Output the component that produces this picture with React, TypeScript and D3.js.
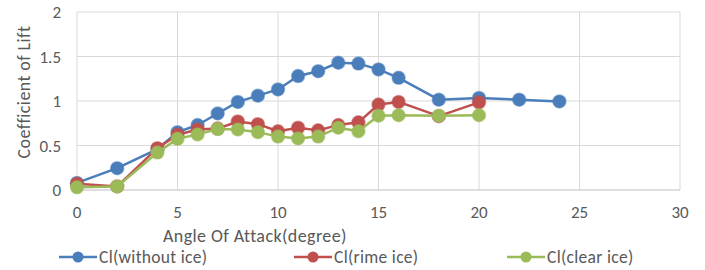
import React, { useEffect, useRef } from 'react';
import * as d3 from 'd3';

const angles = [0, 2, 4, 5, 6, 7, 8, 9, 10, 11, 12, 13, 14, 15, 16, 18, 20, 22, 24];
const clWithoutIce = [0.08, 0.245, 0.46, 0.65, 0.73, 0.86, 0.99, 1.06, 1.13, 1.28, 1.335, 1.43, 1.42, 1.355, 1.26, 1.015, 1.035, 1.015, 0.995];
const rimeAngles = [0, 2, 4, 5, 6, 7, 8, 9, 10, 11, 12, 13, 14, 15, 16, 18, 20];
const clRimeIce = [0.07, 0.04, 0.47, 0.62, 0.68, 0.69, 0.77, 0.74, 0.66, 0.7, 0.67, 0.73, 0.76, 0.96, 0.99, 0.83, 0.985];
const clClearIce = [0.03, 0.04, 0.42, 0.575, 0.625, 0.685, 0.68, 0.65, 0.6, 0.58, 0.6, 0.7, 0.66, 0.835, 0.84, 0.835, 0.84];
const xTicks = [0, 5, 10, 15, 20, 25, 30];
const yTicks = [0, 0.5, 1, 1.5, 2];
const seriesNames = ['Cl(without ice)', 'Cl(rime ice)', 'Cl(clear ice)'];
const colors = ['#4A7EBB', '#C0504D', '#9BBB59'];

const FONT = "Carlito, 'Liberation Sans Narrow', 'Open Sans', sans-serif";

function App() {
    const ref = useRef(null);

    useEffect(() => {
        const svg = d3.select(ref.current);
        svg.selectAll('*').remove();

        // plot area
        const x = d3.scaleLinear().domain([0, 30]).range([77, 680]);
        const y = d3.scaleLinear().domain([0, 2]).range([190, 12]);

        // grid
        svg.append('g').selectAll('line').data(yTicks.filter(d => d > 0)).join('line')
            .attr('x1', x(0)).attr('x2', x(30))
            .attr('y1', d => y(d)).attr('y2', d => y(d))
            .attr('stroke', '#d9d9d9').attr('stroke-width', 1);
        svg.append('g').selectAll('line').data(xTicks).join('line')
            .attr('x1', d => x(d)).attr('x2', d => x(d))
            .attr('y1', y(0)).attr('y2', y(2))
            .attr('stroke', '#d9d9d9').attr('stroke-width', 1);
        svg.append('line')
            .attr('x1', x(0)).attr('x2', x(30)).attr('y1', y(0)).attr('y2', y(0))
            .attr('stroke', '#bfbfbf').attr('stroke-width', 1);

        // tick labels
        svg.append('g').selectAll('text').data(xTicks).join('text')
            .attr('x', d => x(d)).attr('y', 218)
            .attr('text-anchor', 'middle')
            .attr('font-size', 17).attr('font-family', FONT).attr('fill', '#595959')
            .text(d => d);
        svg.append('g').selectAll('text').data(yTicks).join('text')
            .attr('x', 61).attr('y', d => y(d) + 6)
            .attr('text-anchor', 'end')
            .attr('font-size', 17).attr('font-family', FONT).attr('fill', '#595959')
            .text(d => d);

        // axis titles
        svg.append('text')
            .attr('x', 255).attr('y', 242)
            .attr('text-anchor', 'middle')
            .attr('font-size', 18).attr('font-family', FONT).attr('fill', '#595959')
            .attr('letter-spacing', 0.4)
            .text('Angle Of Attack(degree)');
        svg.append('text')
            .attr('transform', 'translate(30,92) rotate(-90)')
            .attr('text-anchor', 'middle')
            .attr('font-size', 18).attr('font-family', FONT).attr('fill', '#595959')
            .attr('letter-spacing', 0.4)
            .text('Coefficient of Lift');

        // series
        const series = [
            angles.map((a, i) => [a, clWithoutIce[i]]),
            rimeAngles.map((a, i) => [a, clRimeIce[i]]),
            rimeAngles.map((a, i) => [a, clClearIce[i]]),
        ];
        const line = d3.line().x(d => x(d[0])).y(d => y(d[1]));

        series.forEach((pts, si) => {
            const g = svg.append('g');
            g.append('path')
                .datum(pts)
                .attr('fill', 'none')
                .attr('stroke', colors[si])
                .attr('stroke-width', 2.5)
                .attr('stroke-linejoin', 'round')
                .attr('d', line);
            g.selectAll('circle').data(pts).join('circle')
                .attr('cx', d => x(d[0])).attr('cy', d => y(d[1]))
                .attr('r', 6.5)
                .attr('fill', colors[si])
                .attr('stroke', colors[si]).attr('stroke-opacity', 0.5).attr('stroke-width', 1.5);
        });

        // legend
        const legendX = [59, 294, 507];
        const legend = svg.append('g').selectAll('g').data(seriesNames).join('g')
            .attr('transform', (d, i) => 'translate(' + legendX[i] + ',257)');
        legend.append('line')
            .attr('x1', 0).attr('x2', 38).attr('y1', 0).attr('y2', 0)
            .attr('stroke', (d, i) => colors[i]).attr('stroke-width', 2.5);
        legend.append('circle')
            .attr('cx', 19).attr('cy', 0).attr('r', 5.5)
            .attr('fill', (d, i) => colors[i]);
        legend.append('text')
            .attr('x', 40).attr('y', 6)
            .attr('font-size', 17.5).attr('font-family', FONT).attr('fill', '#595959')
            .attr('letter-spacing', 0.3)
            .text(d => d);
    }, []);

    return (
        <svg ref={ref} width={705} height={270}
            style={{ position: 'absolute', left: 0, top: 0, background: 'white' }} />
    );
}

export default App;
